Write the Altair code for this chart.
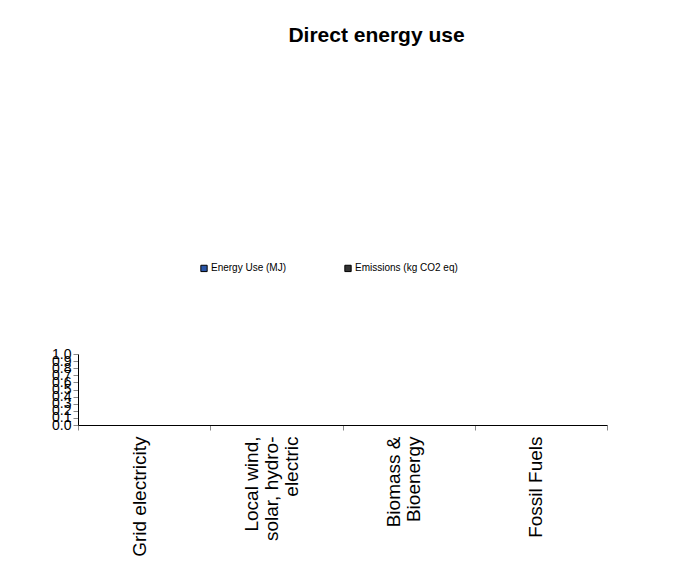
import altair as alt
import pandas as pd

categories = ["Grid electricity", "Local wind,\nsolar, hydro-\nelectric", "Biomass &\nBioenergy", "Fossil Fuels"]
series = ["Energy Use (MJ)", "Emissions (kg CO2 eq)"]
energy_use = [0, 0, 0, 0]
emissions = [0, 0, 0, 0]
y_ticks = [0.0, 0.1, 0.2, 0.3, 0.4, 0.5, 0.6, 0.7, 0.8, 0.9, 1.0]
colors = ["#2a56a8", "#333333"]

rows = []
for c, e, m in zip(categories, energy_use, emissions):
    rows.append({"category": c, "series": series[0], "value": e})
    rows.append({"category": c, "series": series[1], "value": m})
df = pd.DataFrame(rows)

FONT = "Liberation Sans"

label_offset = {
    "condition": [
        {"test": "length(split(datum.value, '\\n')) == 3", "value": -25},
        {"test": "length(split(datum.value, '\\n')) == 2", "value": -15},
    ],
    "value": -5,
}

chart = alt.Chart(df).mark_bar().encode(
    x=alt.X("category:N", sort=categories, title=None,
            scale=alt.Scale(paddingInner=0, paddingOuter=0),
            axis=alt.Axis(labelAngle=270, labelAlign="right", labelBaseline="middle",
                          labelExpr="split(datum.label, '\\n')", labelLineHeight=20,
                          labelFontSize=19, labelFont=FONT, labelColor="black",
                          labelPadding=6, tickBand="extent", tickSize=5,
                          labelOffset=label_offset,
                          tickColor="#888888", domainColor="black", labelLimit=300)),
    xOffset=alt.XOffset("series:N", sort=series),
    y=alt.Y("value:Q", title=None,
            scale=alt.Scale(domain=[0, 1], nice=False),
            axis=alt.Axis(values=y_ticks, format=".1f", labelFontSize=14, labelFont=FONT,
                          labelColor="black", tickSize=5, tickColor="#888888",
                          domainColor="black", grid=False, labelPadding=2,
                          labelOverlap=False)),
    color=alt.Color("series:N", sort=series,
                    scale=alt.Scale(domain=series, range=colors),
                    legend=alt.Legend(title=None, orient="none", legendX=121, legendY=-91,
                                      direction="horizontal", symbolType="square",
                                      symbolSize=40, symbolStrokeColor="black",
                                      symbolStrokeWidth=1, labelFontSize=10,
                                      labelFont=FONT, labelColor="black",
                                      labelOffset=2, columnPadding=55)),
).properties(
    width=529,
    height=71,
    title=alt.TitleParams("Direct energy use", font=FONT, fontSize=21, fontWeight="bold",
                          color="black", anchor="middle", dx=34, offset=217),
    autosize=alt.AutoSizeParams(type="none"),
    padding={"left": 70, "top": 346, "right": 79, "bottom": 140},
).configure_view(stroke=None)

chart.save("out.html", embed_options={"renderer": "svg", "actions": False})
